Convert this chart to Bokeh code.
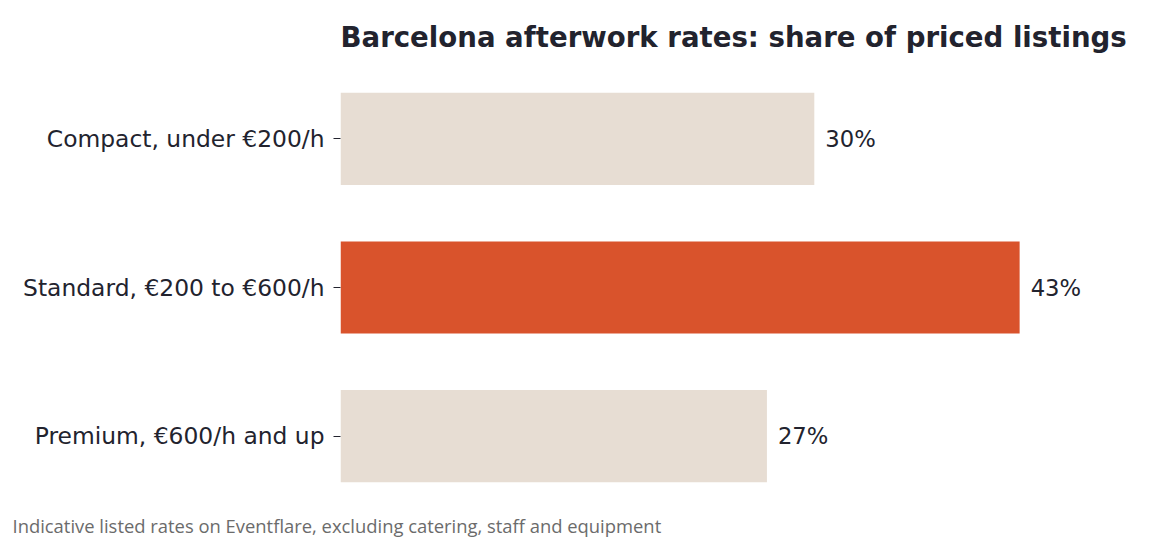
from bokeh.plotting import figure
from bokeh.models import ColumnDataSource, FactorRange, Range1d, Title
from bokeh.core.properties import value
from bokeh.embed import file_html
from bokeh.resources import INLINE

categories = ["Compact, under €200/h", "Standard, €200 to €600/h", "Premium, €600/h and up"]
shares = [30, 43, 27]
labels = ["30%", "43%", "27%"]
colors = ["#E7DDD3", "#D9532C", "#E7DDD3"]

TEXT = "#22232E"

src = ColumnDataSource(dict(cat=categories, share=shares, label=labels, color=colors))

p = figure(
    width=1136, height=537,
    y_range=FactorRange(factors=list(reversed(categories))),
    x_range=Range1d(0, 50.4),
    output_backend="svg", toolbar_location=None,
    min_border_left=340, min_border_right=0, min_border_top=64, min_border_bottom=25,
)
p.hbar(y="cat", right="share", left=0, height=0.62, fill_color="color", line_color=None, source=src)
p.text(x="share", y="cat", text="label", source=src, x_offset=11,
       text_baseline="middle", text_align="left", text_font=value("DejaVu Sans"),
       text_font_size="22.7px", text_color=TEXT)

p.title.text = "Barcelona afterwork rates: share of priced listings"
p.title.text_font = "DejaVu Sans"
p.title.text_font_size = "27.6px"
p.title.text_font_style = "bold"
p.title.text_color = TEXT
p.title.align = "left"
p.title.standoff = 21

foot = Title(text="Indicative listed rates on Eventflare, excluding catering, staff and equipment",
             align="left", offset=-328, text_font="Open Sans", text_font_size="18.4px",
             text_font_style="normal", text_color="#6B6B6B", standoff=0)
p.add_layout(foot, "below")

p.xaxis.visible = False
p.yaxis.axis_line_color = None
p.yaxis.major_tick_out = 7
p.yaxis.major_tick_in = 0
p.yaxis.major_tick_line_color = TEXT
p.yaxis.minor_tick_line_color = None
p.yaxis.major_label_standoff = 9
p.yaxis.major_label_text_font = "DejaVu Sans"
p.yaxis.major_label_text_font_size = "23.4px"
p.yaxis.major_label_text_color = TEXT
p.yaxis.major_label_text_font_style = "normal"
p.grid.visible = False
p.outline_line_color = None
p.y_range.range_padding = 0

open("out.html", "w").write(file_html(p, INLINE))
